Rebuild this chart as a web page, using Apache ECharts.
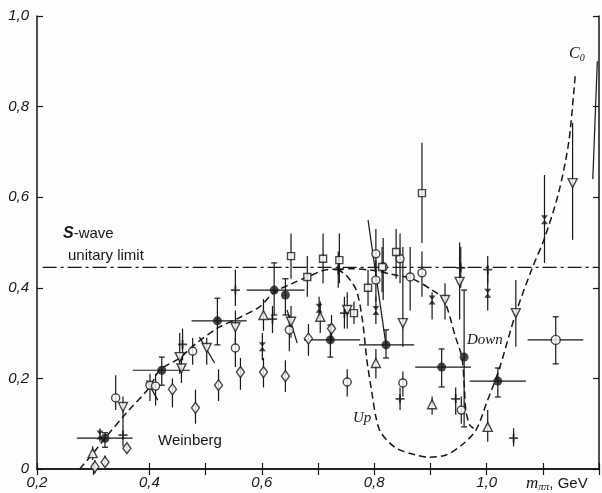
<!DOCTYPE html>
<html>
<head>
<meta charset="utf-8">
<script src="https://cdn.jsdelivr.net/npm/echarts@6/dist/echarts.min.js"></script>
<style>
  html, body { margin: 0; padding: 0; background: #fdfdfd; }
  #chart { width: 602px; height: 493px; }
</style>
</head>
<body>
<div id="chart"></div>
<script>
// tick labels
const xTicks = [0.2, 0.4, 0.6, 0.8, 1.0];
const yTicks = [0, 0.2, 0.4, 0.6, 0.8, 1.0];

// points: [x, y, ylo, yhi, xlo, xhi]
const filledPts = [
  [0.321, 0.068, 0.048, 0.080, 0.271, 0.370],
  [0.422, 0.218, 0.185, 0.247, 0.370, 0.472],
  [0.521, 0.327, 0.274, 0.377, 0.475, 0.573],
  [0.622, 0.395, 0.340, 0.455, 0.573, 0.676],
  [0.642, 0.384, 0.340, 0.420, null, null],
  [0.722, 0.285, 0.247, 0.318, 0.675, 0.775],
  [0.821, 0.274, 0.245, 0.307, 0.773, 0.871],
  [0.920, 0.225, 0.181, 0.265, 0.873, 0.972],
  [0.960, 0.247, 0.093, 0.395, null, null],
  [1.020, 0.194, 0.159, 0.223, 0.970, 1.070]
];
const openCircles = [
  [0.340, 0.157, 0.130, 0.207],
  [0.401, 0.185, 0.150, 0.210],
  [0.411, 0.183, 0.140, 0.210],
  [0.477, 0.260, 0.230, 0.289],
  [0.553, 0.267, 0.225, 0.290],
  [0.649, 0.307, 0.260, 0.340],
  [0.803, 0.475, 0.420, 0.530],
  [0.803, 0.417, 0.370, 0.460],
  [0.816, 0.446, 0.373, 0.510],
  [0.846, 0.464, 0.410, 0.520],
  [0.864, 0.424, 0.350, 0.490],
  [0.885, 0.433, 0.380, 0.480],
  [0.851, 0.190, 0.160, 0.215],
  [0.752, 0.192, 0.160, 0.220],
  [0.955, 0.130, 0.100, 0.160]
];
const openCirclesX = [
  [1.123, 0.285, 0.232, 0.336, 1.073, 1.172]
];
const diamonds = [
  [0.303, 0.005, -0.01, 0.020],
  [0.321, 0.015, 0.005, 0.030],
  [0.360, 0.046, 0.035, 0.055],
  [0.441, 0.176, 0.136, 0.200],
  [0.482, 0.135, 0.100, 0.175],
  [0.523, 0.185, 0.150, 0.220],
  [0.562, 0.214, 0.175, 0.245],
  [0.603, 0.214, 0.180, 0.245],
  [0.642, 0.205, 0.170, 0.240],
  [0.683, 0.288, 0.250, 0.320],
  [0.724, 0.310, 0.280, 0.340]
];
const triUp = [
  [0.299, 0.035, 0.020, 0.050],
  [0.603, 0.340, 0.305, 0.375],
  [0.704, 0.336, 0.300, 0.370],
  [0.803, 0.234, 0.200, 0.265],
  [0.903, 0.143, 0.120, 0.160],
  [1.002, 0.093, 0.060, 0.130]
];
const triDown = [
  [0.353, 0.137, 0.100, 0.160],
  [0.454, 0.247, 0.210, 0.300],
  [0.457, 0.222, 0.190, 0.250],
  [0.502, 0.267, 0.230, 0.290],
  [0.553, 0.313, 0.280, 0.350],
  [0.652, 0.325, 0.290, 0.360],
  [0.752, 0.351, 0.310, 0.390],
  [0.851, 0.322, 0.270, 0.490],
  [0.926, 0.373, 0.330, 0.410],
  [0.952, 0.413, 0.330, 0.500],
  [1.052, 0.344, 0.270, 0.417],
  [1.153, 0.631, 0.506, 0.764]
];
const squares = [
  [0.652, 0.470, 0.420, 0.520],
  [0.709, 0.464, 0.410, 0.520],
  [0.738, 0.461, 0.410, 0.520],
  [0.681, 0.424, 0.380, 0.470],
  [0.789, 0.400, 0.360, 0.440],
  [0.814, 0.446, 0.390, 0.490],
  [0.839, 0.479, 0.420, 0.530],
  [0.885, 0.609, 0.499, 0.720],
  [0.764, 0.344, 0.320, 0.370]
];
const crosses = [
  [0.353, 0.075, 0.050, 0.100],
  [0.459, 0.275, 0.240, 0.310],
  [0.553, 0.395, 0.360, 0.440],
  [0.619, 0.331, 0.300, 0.360],
  [0.747, 0.344, 0.310, 0.380],
  [0.736, 0.440, 0.400, 0.480],
  [0.954, 0.444, 0.400, 0.490],
  [1.002, 0.440, 0.410, 0.470],
  [0.846, 0.155, 0.130, 0.180],
  [0.945, 0.155, 0.120, 0.180],
  [1.048, 0.068, 0.050, 0.090]
];
const bowties = [
  [0.312, 0.075, 0.060, 0.090],
  [0.601, 0.270, 0.240, 0.300],
  [0.702, 0.355, 0.330, 0.380],
  [0.803, 0.350, 0.320, 0.380],
  [0.903, 0.373, 0.330, 0.390],
  [1.002, 0.388, 0.350, 0.440],
  [1.103, 0.550, 0.455, 0.649]
];
// slanted bars: [x1, y1, x2, y2]
const slanted = [
  [0.789, 0.550, 0.821, 0.274],
  [0.395, 0.196, 0.415, 0.152],
  [0.489, 0.291, 0.516, 0.234],
  [0.645, 0.351, 0.663, 0.278],
  [1.197, 0.900, 1.189, 0.640]
];

// curves
const weinberg = [[0.276, 0], [0.30, 0.035], [0.321, 0.068], [0.36, 0.125], [0.40, 0.180],
  [0.418, 0.218], [0.454, 0.245], [0.48, 0.274], [0.521, 0.311], [0.555, 0.331],
  [0.596, 0.358], [0.622, 0.39], [0.655, 0.41], [0.681, 0.424], [0.715, 0.44], [0.734, 0.441]];
const upCurve = [[0.734, 0.441], [0.75, 0.428], [0.768, 0.395], [0.779, 0.329], [0.787, 0.24],
  [0.796, 0.168], [0.803, 0.115], [0.812, 0.08], [0.839, 0.046], [0.874, 0.031], [0.897, 0.026],
  [0.928, 0.031], [0.956, 0.053], [0.981, 0.086], [1.0, 0.146], [1.022, 0.219], [1.052, 0.344],
  [1.08, 0.44], [1.102, 0.506], [1.128, 0.609], [1.146, 0.72], [1.155, 0.83], [1.158, 0.874]];
const downCurve = [[0.734, 0.441], [0.76, 0.442], [0.80, 0.438], [0.83, 0.43], [0.867, 0.42],
  [0.903, 0.395], [0.924, 0.373], [0.945, 0.29], [0.956, 0.247], [0.96, 0.19], [0.963, 0.13],
  [0.97, 0.097], [0.977, 0.09]];
const unitaryLimit = [[0.21, 0.445], [1.2, 0.445]];

const ink = '#161616';
const chart = echarts.init(document.getElementById('chart'));

function errSeries(rows, caps) {
  return {
    type: 'custom', z: 2, silent: true,
    data: rows.map(r => [r[0], r[1]]),
    encode: { x: 0, y: 1 },
    renderItem: (params, api) => {
      const r = rows[params.dataIndex];
      const kids = [];
      const seg = (p, q) => kids.push({ type: 'line', shape: { x1: p[0], y1: p[1], x2: q[0], y2: q[1] },
        style: { stroke: ink, lineWidth: 1.2 } });
      if (r[2] != null) {
        const lo = api.coord([r[0], r[2]]), hi = api.coord([r[0], r[3]]);
        seg(lo, hi);
        if (caps) { seg([lo[0] - 3, lo[1]], [lo[0] + 3, lo[1]]); seg([hi[0] - 3, hi[1]], [hi[0] + 3, hi[1]]); }
      }
      if (r[4] != null) {
        seg(api.coord([r[4], r[1]]), api.coord([r[5], r[1]]));
      }
      return { type: 'group', children: kids };
    }
  };
}

function markers(rows, symbol, size, open) {
  return {
    type: 'scatter', z: 5, silent: true,
    data: rows.map(r => [r[0], r[1]]),
    symbol: symbol, symbolSize: size,
    itemStyle: open ? { color: '#fff', borderColor: ink, borderWidth: 1.4 } : { color: ink },
    emphasis: { disabled: true }
  };
}

function curve(data, type) {
  return {
    type: 'line', data: data, showSymbol: false, smooth: 0.3, z: 3, silent: true,
    lineStyle: { color: ink, width: 1.5, type: type }
  };
}

const plusPath = 'path://M4,0H6V10H4Z M0,4H10V6H0Z';
const bowPath = 'path://M0,0L10,0L5,5Z M5,5L10,10L0,10Z';
const downPath = 'path://M0,0L10,0L5,9Z';

const fmtX = v => {
  const k = Math.round(v * 10);
  if (!xTicks.some(t => Math.round(t * 10) === k)) return '';
  return (k / 10).toFixed(1).replace('.', ',');
};
const fmtY = v => {
  const k = Math.round(v * 10);
  if (!yTicks.some(t => Math.round(t * 10) === k)) return '';
  return k === 0 ? '0' : (k / 10).toFixed(1).replace('.', ',');
};

const axisCommon = {
  type: 'value', splitLine: { show: false },
  axisLine: { show: true, lineStyle: { color: ink, width: 1.5 } },
  axisTick: { show: true, inside: true, length: 6, lineStyle: { color: ink, width: 1.2 } }
};
const labelFont = { fontFamily: 'Liberation Sans', fontStyle: 'italic', fontSize: 15, color: ink };

chart.setOption({
  animation: false,
  backgroundColor: '#fdfdfd',
  grid: { left: 37, right: 3, top: 16, bottom: 24 },
  xAxis: [
    Object.assign({}, axisCommon, { min: 0.2, max: 1.2, interval: 0.1, position: 'bottom',
      axisLabel: Object.assign({ formatter: fmtX, margin: 6 }, labelFont) }),
    Object.assign({}, axisCommon, { min: 0.2, max: 1.2, interval: 0.1, position: 'top',
      axisLabel: { show: false } })
  ],
  yAxis: [
    Object.assign({}, axisCommon, { min: 0, max: 1.0, interval: 0.2, position: 'left',
      axisLabel: Object.assign({ formatter: fmtY, margin: 8 }, labelFont) }),
    Object.assign({}, axisCommon, { min: 0, max: 1.0, interval: 0.2, position: 'right',
      axisLabel: { show: false } })
  ],
  series: [
    { type: 'line', data: unitaryLimit, showSymbol: false, z: 1, silent: true,
      lineStyle: { color: ink, width: 1.3, type: [14, 4, 3, 4] } },
    curve(weinberg, [7, 4]),
    curve(upCurve, [7, 4]),
    curve(downCurve, [7, 4]),
    {
      type: 'custom', z: 2, silent: true,
      data: slanted.map(r => [r[0], r[1]]),
      encode: { x: 0, y: 1 },
      renderItem: (params, api) => {
        const r = slanted[params.dataIndex];
        const p = api.coord([r[0], r[1]]), q = api.coord([r[2], r[3]]);
        return { type: 'line', shape: { x1: p[0], y1: p[1], x2: q[0], y2: q[1] },
          style: { stroke: ink, lineWidth: 1.2 } };
      }
    },
    errSeries(filledPts, true),
    errSeries(openCircles, false),
    errSeries(openCirclesX, true),
    errSeries(diamonds, false),
    errSeries(triUp, false),
    errSeries(triDown, false),
    errSeries(squares, false),
    errSeries(crosses, false),
    errSeries(bowties, false),
    markers(filledPts, 'circle', 9, false),
    markers(openCircles, 'circle', 8, true),
    markers(openCirclesX, 'circle', 9, true),
    markers(diamonds, 'diamond', [8, 11], true),
    markers(triUp, 'triangle', 9, true),
    markers(triDown, downPath, 9, true),
    markers(squares, 'rect', 7, true),
    markers(crosses, plusPath, 9, false),
    markers(bowties, bowPath, [7, 9], false)
  ],
  graphic: [
    { type: 'text', left: 63, top: 226, style: { text: '{s|S}-wave', font: '15px "Liberation Sans"', fill: ink,
      rich: { s: { fontWeight: 'bold', fontStyle: 'italic', fontSize: 16, fontFamily: 'Liberation Sans' } } } },
    { type: 'text', left: 68, top: 248, style: { text: 'unitary limit', font: '15px "Liberation Sans"', fill: ink } },
    { type: 'text', left: 158, top: 433, style: { text: 'Weinberg', font: '15px "Liberation Sans"', fill: ink } },
    { type: 'text', left: 353, top: 411, style: { text: 'Up', font: 'italic 15px "Liberation Serif"', fill: ink } },
    { type: 'text', left: 467, top: 333, style: { text: 'Down', font: 'italic 15px "Liberation Serif"', fill: ink } },
    { type: 'text', left: 569, top: 46, style: { text: '{c|C}{sub|0}', fill: ink,
      rich: { c: { fontStyle: 'italic', fontSize: 16, fontFamily: 'Liberation Serif' },
              sub: { fontStyle: 'italic', fontSize: 10, fontFamily: 'Liberation Serif', padding: [8, 0, 0, 0] } } } },
    { type: 'text', left: 526, top: 475, style: { text: '{m|m}{sub|ππ}{g|, GeV}', fill: ink,
      rich: { m: { fontStyle: 'italic', fontSize: 17, fontFamily: 'Liberation Serif' },
              sub: { fontStyle: 'italic', fontSize: 11, fontFamily: 'Liberation Serif', padding: [7, 0, 0, 0] },
              g: { fontSize: 15, fontFamily: 'Liberation Sans' } } } }
  ]
});
</script>
</body>
</html>
